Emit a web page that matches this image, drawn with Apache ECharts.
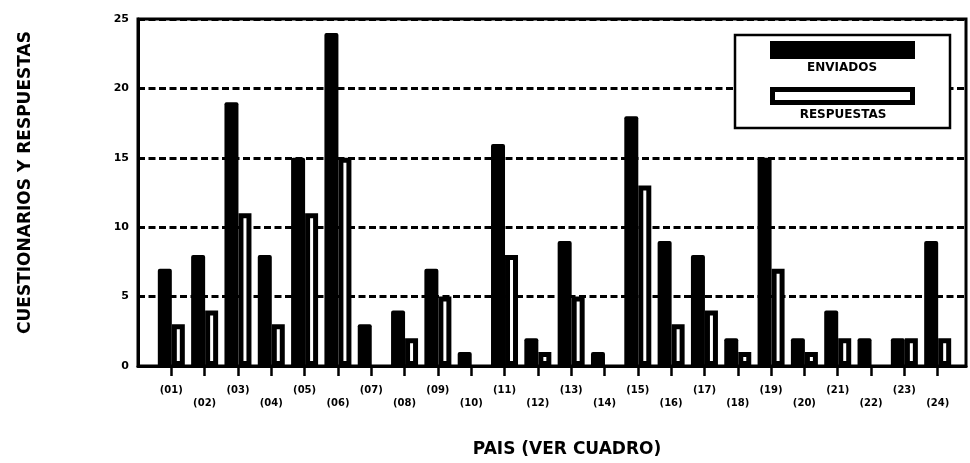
<!DOCTYPE html>
<html>
<head>
<meta charset="utf-8">
<script src="https://cdn.jsdelivr.net/npm/echarts@6/dist/echarts.min.js"></script>
<style>
html,body{margin:0;padding:0;background:#fff;}
#chart{width:970px;height:463px;}
</style>
</head>
<body>
<div id="chart"></div>
<script>
const categories = ['(01)','(02)','(03)','(04)','(05)','(06)','(07)','(08)','(09)','(10)','(11)','(12)',
                    '(13)','(14)','(15)','(16)','(17)','(18)','(19)','(20)','(21)','(22)','(23)','(24)'];
const enviados   = [7, 8, 19, 8, 15, 24, 3, 4, 7, 1, 16, 2, 9, 1, 18, 9, 8, 2, 15, 2, 4, 2, 2, 9];
const respuestas = [3, 4, 11, 3, 11, 15, 0, 2, 5, 0, 8, 1, 5, 0, 13, 3, 4, 1, 7, 1, 2, 0, 2, 2];
const yTicks = [0, 5, 10, 15, 20, 25];
const seriesNames = ['ENVIADOS', 'RESPUESTAS'];

const FONT = '"DejaVu Sans", "Liberation Sans", Arial, sans-serif';
const positions = categories.map((c, i) => i + 1);

const chart = echarts.init(document.getElementById('chart'), null, {renderer: 'canvas'});
chart.setOption({
  animation: false,
  backgroundColor: '#fff',
  grid: {
    left: 138, right: 4, top: 19, bottom: 93,
    show: true, borderColor: '#000', borderWidth: 3, backgroundColor: 'transparent'
  },
  legend: {
    left: 735, top: 35,
    orient: 'vertical',
    itemWidth: 145, itemHeight: 18, itemGap: 28,
    padding: [6, 35, 23, 35],
    borderColor: '#000', borderWidth: 2.5,
    backgroundColor: '#fff',
    formatter: () => '',
    selectedMode: false,
    data: [
      {name: seriesNames[0], icon: 'rect', itemStyle: {color: '#000', borderWidth: 0}},
      {name: seriesNames[1], icon: 'path://M0,0H145V18H0Z M5,5V13H140V5Z',
       itemStyle: {color: '#000', borderWidth: 0}}
    ]
  },
  graphic: [
    {type: 'text', x: 842, y: 68, z: 100,
     style: {text: seriesNames[0], font: 'bold 12px ' + FONT, fill: '#000', align: 'center', verticalAlign: 'middle'}},
    {type: 'text', x: 843, y: 115, z: 100,
     style: {text: seriesNames[1], font: 'bold 12px ' + FONT, fill: '#000', align: 'center', verticalAlign: 'middle'}}
  ],
  xAxis: {
    type: 'value',
    min: 0, max: 24.85,
    name: 'PAIS (VER CUADRO)',
    nameLocation: 'middle',
    nameGap: 75,
    nameTextStyle: {fontFamily: FONT, fontWeight: 'bold', fontSize: 17, color: '#000', padding: [0, 0, 0, 30]},
    axisLine: {show: true, lineStyle: {color: '#000', width: 3}},
    axisTick: {show: true, length: 10, lineStyle: {color: '#000', width: 2.5}, customValues: positions},
    axisLabel: {
      customValues: positions,
      margin: 18,
      fontFamily: FONT, fontWeight: 'bold', fontSize: 10, color: '#000', lineHeight: 13,
      formatter: (v) => {
        const i = Math.round(v) - 1;
        if (i < 0 || i >= categories.length) return '';
        return (i % 2 === 1 ? '\n' : '') + categories[i];
      }
    },
    splitLine: {show: false}
  },
  yAxis: {
    type: 'value',
    min: 0, max: 25, interval: 5,
    name: 'CUESTIONARIOS Y RESPUESTAS',
    nameLocation: 'middle',
    nameGap: 104,
    nameTextStyle: {fontFamily: FONT, fontWeight: 'bold', fontSize: 17, color: '#000', padding: [0, 0, 0, 20]},
    axisLine: {show: true, lineStyle: {color: '#000', width: 3}},
    axisTick: {show: false},
    axisLabel: {
      margin: 9,
      fontFamily: FONT, fontWeight: 'bold', fontSize: 11, color: '#000',
      customValues: yTicks
    },
    splitLine: {show: true, lineStyle: {color: '#000', width: 3, type: [7, 3.5]}}
  },
  series: [
    {
      name: seriesNames[0],
      type: 'bar',
      barWidth: 14,
      barGap: '0%',
      itemStyle: {color: '#000', borderRadius: [2, 2, 0, 0]},
      data: enviados.map((v, i) => [positions[i], v])
    },
    {
      name: seriesNames[1],
      type: 'bar',
      barWidth: 13,
      barGap: '0%',
      itemStyle: {color: '#fff', borderColor: '#000', borderWidth: 5},
      data: respuestas.map((v, i) => [positions[i], v === 0 ? '-' : v])
    }
  ]
});
</script>
</body>
</html>
